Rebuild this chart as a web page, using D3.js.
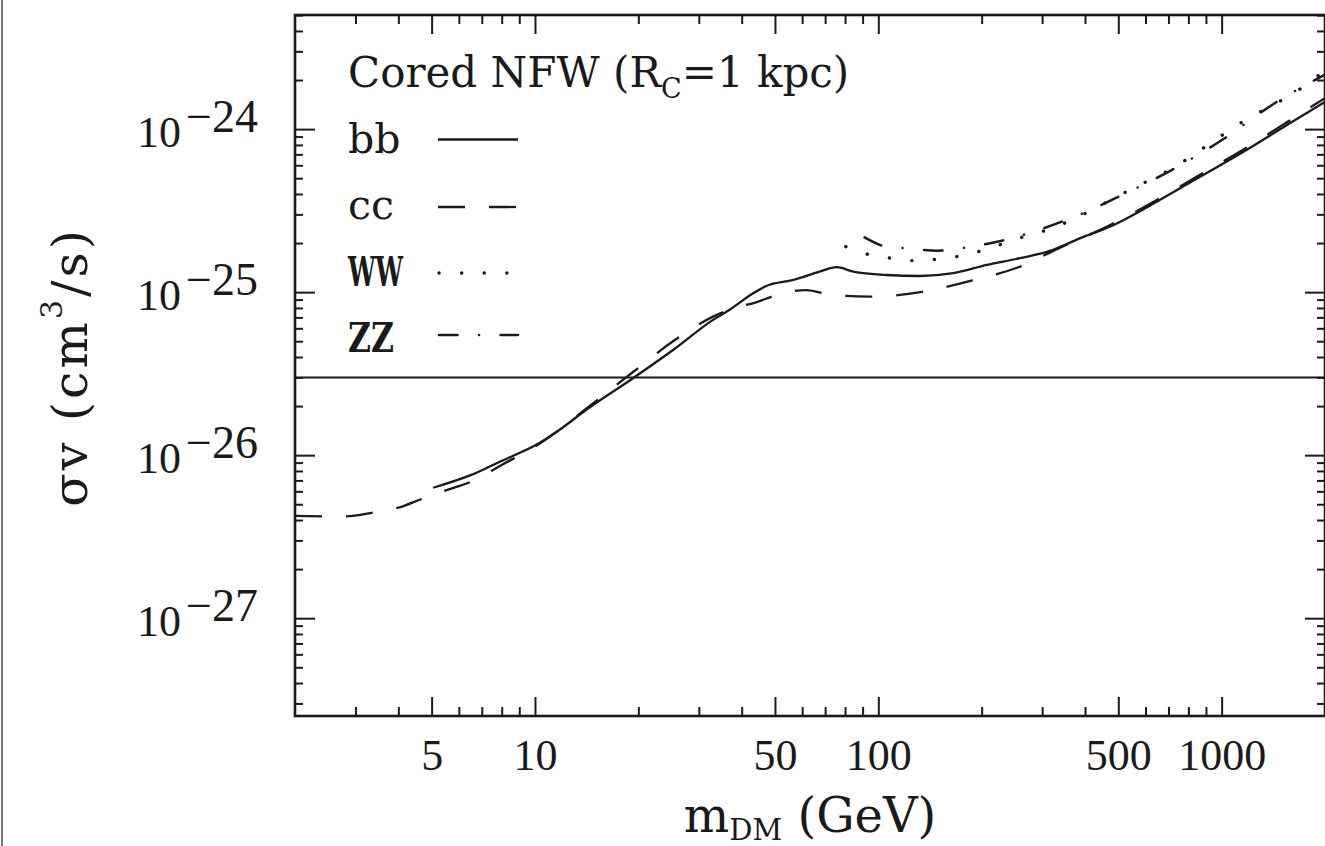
<!DOCTYPE html>
<html><head><meta charset="utf-8">
<script src="https://cdn.jsdelivr.net/npm/d3@7"></script>
<style>
html,body{margin:0;padding:0;background:#fff;}
svg{display:block;}
</style></head>
<body>
<svg id="chart" width="1325" height="846"></svg>
<script>
// ---- tick values / labels ----
const xMajorTicks = [5, 10, 50, 100, 500, 1000];
const xTickLabels = ["5", "10", "50", "100", "500", "1000"];
const yMajorTicks = [1e-27, 1e-26, 1e-25, 1e-24];
const yTickExponents = ["\u221227", "\u221226", "\u221225", "\u221224"];
const relicSigma = 3e-26;

// ---- series (m_DM in GeV, sigma v in cm^3/s) ----
const bbMass  = [5.05, 6.55, 7.9, 10.3, 11.8, 14.1, 19.3, 25.3, 33.0, 36.9, 43.2, 47.2, 56.6, 67.5, 75.6, 84.5, 105.9, 132.6, 165.2, 207, 258, 323, 386, 472, 660, 865, 1158, 1549, 2000];
const bbSigma = [6.31e-27, 7.59e-27, 9.12e-27, 1.186e-26, 1.432e-26, 1.897e-26, 2.965e-26, 4.43e-26, 6.76e-26, 7.80e-26, 9.84e-26, 1.091e-25, 1.189e-25, 1.337e-25, 1.422e-25, 1.337e-25, 1.274e-25, 1.256e-25, 1.306e-25, 1.469e-25, 1.614e-25, 1.816e-25, 2.138e-25, 2.518e-25, 3.673e-25, 5.105e-25, 7.261e-25, 1.059e-24, 1.469e-24];

const ccMass  = [2, 2.8, 3.4, 4.0, 4.7, 5.5, 6.55, 8, 10.3, 14, 19.3, 25.3, 33, 37, 43.8, 51.7, 61.6, 73.3, 94.8, 134, 188, 261, 336, 472, 660, 865, 1158, 1549, 2000];
const ccSigma = [4.246e-27, 4.207e-27, 4.457e-27, 4.764e-27, 5.408e-27, 6.081e-27, 6.902e-27, 8.71e-27, 1.175e-26, 1.905e-26, 3.236e-26, 5.012e-26, 7.079e-26, 7.852e-26, 8.630e-26, 9.750e-26, 1.030e-25, 9.616e-26, 9.376e-26, 1.005e-25, 1.180e-25, 1.445e-25, 1.862e-25, 2.570e-25, 3.758e-25, 5.248e-25, 7.499e-25, 1.102e-24, 1.549e-24];

const wwMass  = [80.4, 94.8, 109.2, 126.4, 148, 173, 200, 261, 309, 589, 676, 1151, 1737, 2000];
const wwSigma = [1.901e-25, 1.690e-25, 1.614e-25, 1.560e-25, 1.592e-25, 1.667e-25, 1.795e-25, 2.168e-25, 2.404e-25, 4.645e-25, 5.358e-25, 1.109e-24, 1.832e-24, 2.291e-24];

const zzMass  = [91.2, 105.6, 121, 148.6, 182, 222, 350, 404, 489, 715, 1002, 1412, 2000];
const zzSigma = [2.168e-25, 1.901e-25, 1.858e-25, 1.795e-25, 1.884e-25, 2.037e-25, 2.754e-25, 3.112e-25, 3.758e-25, 5.610e-25, 8.570e-25, 1.422e-24, 2.163e-24];

const legendTitle = ["Cored NFW (R", "C", "=1 kpc)"];
const legendLabels = ["bb", "cc", "WW", "ZZ"];
const xTitle = ["m", "DM", " (GeV)"];
const yTitle = ["\u03c3v (cm", "3", "/s)"];

// ---- layout ----
const svg = d3.select("#chart");
const L = 295, R = 1325, T = 15, B = 716;
const x = d3.scaleLog().domain([2, 2000]).range([L, R]);
const y = d3.scaleLog().domain([Math.pow(10, -27.6), Math.pow(10, -23.3)]).range([B, T]);
const ink = "#1a1a1a";
const numFont = "'Liberation Serif', serif";
const txtFont = "'DejaVu Serif', serif";

// left image border
svg.append("line").attr("x1", 2).attr("x2", 2).attr("y1", 0).attr("y2", 846)
  .attr("stroke", "#7a7a7a").attr("stroke-width", 2);

// minor tick values
const xMinor = [], yMinor = [];
for (let d = 0; d <= 3; d++) for (let k = 2; k <= 9; k++) {
  const v = k * Math.pow(10, d);
  if (v > 2 && v < 2000 && k !== 5) xMinor.push(v);
}
for (let d = -28; d <= -24; d++) for (let k = 2; k <= 9; k++) {
  const v = k * Math.pow(10, d);
  if (v > y.domain()[0] && v < y.domain()[1]) yMinor.push(v);
}

function styleAxis(g) {
  g.select(".domain").remove();
  g.selectAll(".tick line").attr("stroke", ink).attr("stroke-width", 2);
}

// bottom
const gB = svg.append("g").attr("transform", `translate(0,${B})`)
  .call(d3.axisBottom(x).tickValues(xMajorTicks).tickSizeInner(-19).tickSizeOuter(0)
        .tickFormat((d, i) => xTickLabels[i]));
gB.call(styleAxis);
gB.attr("font-family", numFont).attr("font-size", 44);
gB.selectAll(".tick text").attr("y", 54).attr("dy", null).attr("fill", ink);
svg.append("g").attr("transform", `translate(0,${B})`)
  .call(d3.axisBottom(x).tickValues(xMinor).tickSizeInner(-9).tickSizeOuter(0).tickFormat(""))
  .call(styleAxis);
// top
svg.append("g").attr("transform", `translate(0,${T})`)
  .call(d3.axisTop(x).tickValues(xMajorTicks).tickSizeInner(-19).tickSizeOuter(0).tickFormat(""))
  .call(styleAxis);
svg.append("g").attr("transform", `translate(0,${T})`)
  .call(d3.axisTop(x).tickValues(xMinor).tickSizeInner(-9).tickSizeOuter(0).tickFormat(""))
  .call(styleAxis);
// left
const gL = svg.append("g").attr("transform", `translate(${L},0)`)
  .call(d3.axisLeft(y).tickValues(yMajorTicks).tickSizeInner(-20).tickSizeOuter(0));
gL.call(styleAxis);
gL.attr("font-family", numFont).attr("font-size", 44);
gL.selectAll(".tick text").each(function(d) {
  const t = d3.select(this);
  const i = yMajorTicks.indexOf(d);
  t.text(null).attr("x", -37).attr("y", 17).attr("dy", null)
   .attr("text-anchor", "end").attr("fill", ink);
  t.append("tspan").text("10");
  t.append("tspan").attr("dy", -15).attr("dx", 5).attr("font-size", 46).text(yTickExponents[i]);
});
svg.append("g").attr("transform", `translate(${L},0)`)
  .call(d3.axisLeft(y).tickValues(yMinor).tickSizeInner(-8).tickSizeOuter(0).tickFormat(""))
  .call(styleAxis);
// right
svg.append("g").attr("transform", `translate(${R},0)`)
  .call(d3.axisRight(y).tickValues(yMajorTicks).tickSizeInner(-20).tickSizeOuter(0).tickFormat(""))
  .call(styleAxis);
svg.append("g").attr("transform", `translate(${R},0)`)
  .call(d3.axisRight(y).tickValues(yMinor).tickSizeInner(-8).tickSizeOuter(0).tickFormat(""))
  .call(styleAxis);

// frame
svg.append("rect").attr("x", L).attr("y", T).attr("width", R - L).attr("height", B - T)
  .attr("fill", "none").attr("stroke", ink).attr("stroke-width", 2.6);

// relic line
svg.append("line").attr("x1", L).attr("x2", R)
  .attr("y1", y(relicSigma)).attr("y2", y(relicSigma))
  .attr("stroke", ink).attr("stroke-width", 2);

// curves
const line = d3.line().x(d => x(d[0])).y(d => y(d[1])).curve(d3.curveMonotoneX);
const zip = (a, b) => a.map((v, i) => [v, b[i]]);
const styles = {
  bb: {dash: null, cap: "butt", w: 2.3},
  cc: {dash: "27 24", cap: "butt", w: 2.3},
  WW: {dash: "0.1 22.5", cap: "round", w: 3.4},
  ZZ: {dash: "18.5 21.5 0.1 21.5", cap: "round", w: 2.5}
};
const series = [
  ["bb", zip(bbMass, bbSigma)],
  ["cc", zip(ccMass, ccSigma)],
  ["WW", zip(wwMass, wwSigma)],
  ["ZZ", zip(zzMass, zzSigma)]
];
svg.append("clipPath").attr("id", "pc").append("rect")
  .attr("x", L).attr("y", T).attr("width", R - L).attr("height", B - T);
const gC = svg.append("g").attr("clip-path", "url(#pc)");
series.forEach(([k, data]) => {
  const s = styles[k];
  gC.append("path").attr("d", line(data)).attr("fill", "none")
    .attr("stroke", ink).attr("stroke-width", s.w)
    .attr("stroke-linecap", s.cap).attr("stroke-linejoin", "round")
    .attr("stroke-dasharray", s.dash);
});

// legend
const gLeg = svg.append("g").attr("font-family", txtFont).attr("fill", ink);
const title = gLeg.append("text").attr("x", 348).attr("y", 86.5).attr("font-size", 42);
title.append("tspan").text(legendTitle[0]);
title.append("tspan").attr("font-size", 27).attr("dy", 11).text(legendTitle[1]);
title.append("tspan").attr("dy", -11).text(legendTitle[2]);
const rowBase = [153, 219.3, 285.6, 352];
const rowLine = [139.5, 207, 273, 335];
legendLabels.forEach((lab, i) => {
  const t = gLeg.append("text").attr("x", 348).attr("y", rowBase[i]).attr("font-size", 41).text(lab);
  if (lab === "WW") t.attr("textLength", 55).attr("lengthAdjust", "spacingAndGlyphs").attr("font-weight", "bold");
  if (lab === "ZZ") t.attr("textLength", 46).attr("lengthAdjust", "spacingAndGlyphs").attr("font-weight", "bold");
  const s = styles[lab];
  gLeg.append("line").attr("x1", 438 + (s.cap === "round" ? 1 : 0)).attr("x2", 518)
    .attr("y1", rowLine[i]).attr("y2", rowLine[i])
    .attr("stroke", ink).attr("stroke-width", s.w)
    .attr("stroke-linecap", s.cap).attr("stroke-dasharray", s.dash);
});

// axis titles
const xt = svg.append("text").attr("x", (L + R) / 2).attr("y", 832)
  .attr("text-anchor", "middle").attr("font-family", txtFont).attr("font-size", 48).attr("fill", ink);
xt.append("tspan").text(xTitle[0]);
xt.append("tspan").attr("font-size", 29).attr("dy", 8).text(xTitle[1]);
xt.append("tspan").attr("dy", -8).text(xTitle[2]);

const yt = svg.append("text").attr("transform", "translate(87,367) rotate(-90)")
  .attr("text-anchor", "middle").attr("font-family", txtFont).attr("font-size", 49)
  .attr("letter-spacing", 3).attr("fill", ink);
yt.append("tspan").text(yTitle[0]);
yt.append("tspan").attr("font-size", 30).attr("dy", -25).text(yTitle[1]);
yt.append("tspan").attr("dy", 25).text(yTitle[2]);
</script>
</body></html>
